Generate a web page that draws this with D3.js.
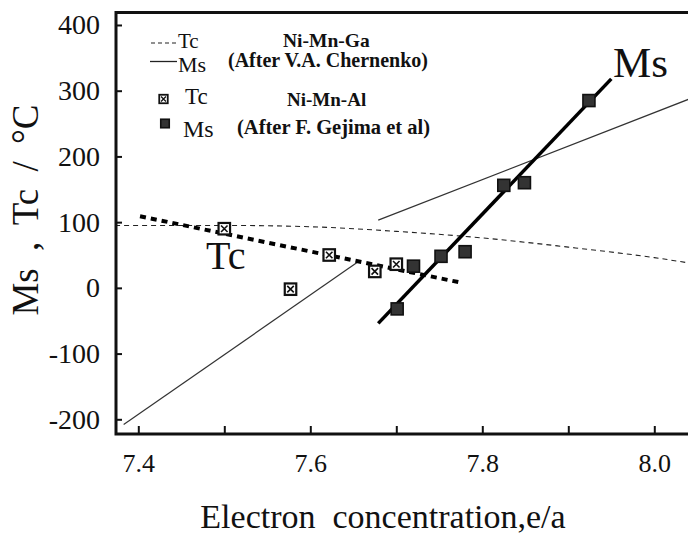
<!DOCTYPE html>
<html>
<head>
<meta charset="utf-8">
<script src="https://cdn.jsdelivr.net/npm/d3@7"></script>
<style>
  body { margin: 0; background: #fff; }
  svg { display: block; }
  text { font-family: "Liberation Serif", "Times New Roman", serif; fill: #111; }
</style>
</head>
<body>
<svg id="chart" width="688" height="534"></svg>
<script>
// Axis ticks
const xMajorTicks = [7.4, 7.6, 7.8, 8.0];
const xMinorTicks = [7.5, 7.7, 7.9];
const yTicks = [-200, -100, 0, 100, 200, 300, 400];

// Ni-Mn-Ga (after V.A. Chernenko): Curie temperature curve and martensite start lines
const gaTc = [[7.373, 95], [7.5, 95], [7.6, 93], [7.7, 86], [7.8, 76], [7.9, 62], [8.0, 46], [8.04, 38]];
const gaMsLow = [[7.383, -208], [7.656, 40]];
const gaMsHigh = [[7.679, 103], [8.04, 287]];

// Ni-Mn-Al (after F. Gejima et al): measured points
const alTc = [[7.50, 90], [7.577, -2], [7.622, 50], [7.675, 25], [7.700, 36]];
const alMs = [[7.701, -32], [7.720, 33], [7.752, 48], [7.780, 55], [7.825, 156], [7.849, 160], [7.924, 285]];

// Trend lines through the Ni-Mn-Al data
const alTcFit = [[7.402, 109], [7.775, 8]];
const alMsFit = [[7.679, -54], [7.950, 318]];

const svg = d3.select("#chart");
const frame = { left: 116, top: 12.5, right: 700, bottom: 434 };

const x = d3.scaleLinear().domain([7.4, 8.0]).range([138.3, 654.3]);
const y = d3.scaleLinear().domain([-200, 300]).range([419.3, 90.7]);

svg.append("defs").append("clipPath").attr("id", "plot")
  .append("rect")
  .attr("x", frame.left).attr("y", frame.top)
  .attr("width", frame.right - frame.left).attr("height", frame.bottom - frame.top);

const line = d3.line().x(d => x(d[0])).y(d => y(d[1]));
const curve = d3.line().x(d => x(d[0])).y(d => y(d[1])).curve(d3.curveMonotoneX);

const plot = svg.append("g").attr("clip-path", "url(#plot)");

// Ni-Mn-Ga Tc: thin dashed
plot.append("path").datum(gaTc).attr("d", curve)
  .attr("fill", "none").attr("stroke", "#222").attr("stroke-width", 1.1)
  .attr("stroke-dasharray", "5,4");

// Ni-Mn-Ga Ms: thin solid, two branches
[gaMsLow, gaMsHigh].forEach(seg => {
  plot.append("path").datum(seg).attr("d", line)
    .attr("fill", "none").attr("stroke", "#333").attr("stroke-width", 1.2);
});

// Ni-Mn-Al Tc trend: thick dotted
plot.append("path").datum(alTcFit).attr("d", line)
  .attr("fill", "none").attr("stroke", "#000").attr("stroke-width", 4)
  .attr("stroke-dasharray", "6,5");

// Ni-Mn-Al Ms trend: thick solid
plot.append("path").datum(alMsFit).attr("d", line)
  .attr("fill", "none").attr("stroke", "#000").attr("stroke-width", 3.5);

function crossedSquare(g, cx, cy, s) {
  const h = s / 2;
  g.append("rect").attr("x", cx - h).attr("y", cy - h).attr("width", s).attr("height", s)
    .attr("fill", "#fff").attr("stroke", "#111").attr("stroke-width", s > 9 ? 2.2 : 1.8);
  const i = s > 9 ? 2.5 : 1.8;
  g.append("path")
    .attr("d", `M${cx - h + i},${cy - h + i}L${cx + h - i},${cy + h - i}M${cx + h - i},${cy - h + i}L${cx - h + i},${cy + h - i}`)
    .attr("stroke", "#111").attr("stroke-width", s > 9 ? 1.6 : 1.3).attr("fill", "none");
}
function filledSquare(g, cx, cy, s) {
  const h = s / 2;
  g.append("rect").attr("x", cx - h).attr("y", cy - h).attr("width", s).attr("height", s)
    .attr("fill", "#333").attr("stroke", "#111").attr("stroke-width", 1.6);
}

const marks = svg.append("g");
alTc.forEach(d => crossedSquare(marks, x(d[0]), y(d[1]), 11.5));
alMs.forEach(d => filledSquare(marks, x(d[0]), y(d[1]), 12));

// Axes with inward ticks
const xAxis = d3.axisBottom(x)
  .tickValues(xMajorTicks.concat(xMinorTicks))
  .tickSizeInner(-8).tickSizeOuter(0)
  .tickFormat(d => xMajorTicks.includes(d) ? d.toFixed(1) : "");
const gx = svg.append("g").attr("transform", `translate(0,${frame.bottom})`).call(xAxis);
gx.select(".domain").remove();
gx.selectAll(".tick line").attr("stroke", "#111").attr("stroke-width", 2);
gx.selectAll(".tick text")
  .attr("y", 38).attr("dy", null)
  .style("font-family", '"Liberation Serif", serif').style("font-size", "26px").attr("fill", "#111");

const yAxis = d3.axisLeft(y)
  .tickValues(yTicks).tickSizeInner(-6).tickSizeOuter(0).tickPadding(16)
  .tickFormat(d => String(d));
const gy = svg.append("g").attr("transform", `translate(${frame.left},0)`).call(yAxis);
gy.select(".domain").remove();
gy.selectAll(".tick line").attr("stroke", "#111").attr("stroke-width", 2);
gy.selectAll(".tick text")
  .style("font-family", '"Liberation Serif", serif').style("font-size", "28px").attr("fill", "#111");

// Frame: top, left and bottom edges
svg.append("path")
  .attr("d", `M${frame.right},${frame.top}H${frame.left}V${frame.bottom}H${frame.right}`)
  .attr("fill", "none").attr("stroke", "#111").attr("stroke-width", 3);

// Axis titles
svg.append("text")
  .attr("x", 383).attr("y", 528).attr("text-anchor", "middle")
  .style("font-size", "34px").attr("xml:space", "preserve")
  .text("Electron  concentration,e/a");

svg.append("text")
  .attr("transform", "translate(38,210) rotate(-90)")
  .attr("text-anchor", "middle")
  .style("font-size", "37px").style("word-spacing", "8px")
  .text("Ms , Tc / °C");

// Curve labels
svg.append("text").attr("x", 206).attr("y", 269).style("font-size", "40px").text("Tc");
svg.append("text").attr("x", 613).attr("y", 77).style("font-size", "43px").text("Ms");

// Legend
const lg = svg.append("g");
lg.append("line").attr("x1", 151).attr("x2", 177).attr("y1", 43).attr("y2", 43)
  .attr("stroke", "#222").attr("stroke-width", 1.1).attr("stroke-dasharray", "4,3");
lg.append("text").attr("x", 178).attr("y", 47.5).style("font-size", "21px").text("Tc");
lg.append("line").attr("x1", 150).attr("x2", 177).attr("y1", 61.5).attr("y2", 61.5)
  .attr("stroke", "#222").attr("stroke-width", 1.3);
lg.append("text").attr("x", 178).attr("y", 71.5).style("font-size", "22px").text("Ms");
lg.append("text").attr("x", 283).attr("y", 46.7).style("font-size", "19.5px").style("font-weight", "bold").text("Ni-Mn-Ga");
lg.append("text").attr("x", 228).attr("y", 66.7).style("font-size", "20px").style("font-weight", "bold").text("(After V.A. Chernenko)");

crossedSquare(lg, 163.5, 99, 8.5);
lg.append("text").attr("x", 185).attr("y", 103.5).style("font-size", "23px").text("Tc");
filledSquare(lg, 165, 123.5, 8.5);
lg.append("text").attr("x", 183).attr("y", 137).style("font-size", "24px").text("Ms");
lg.append("text").attr("x", 287).attr("y", 106).style("font-size", "19px").style("font-weight", "bold").text("Ni-Mn-Al");
lg.append("text").attr("x", 237).attr("y", 133.5).style("font-size", "20.5px").style("font-weight", "bold").text("(After F. Gejima et al)");
</script>
</body>
</html>
